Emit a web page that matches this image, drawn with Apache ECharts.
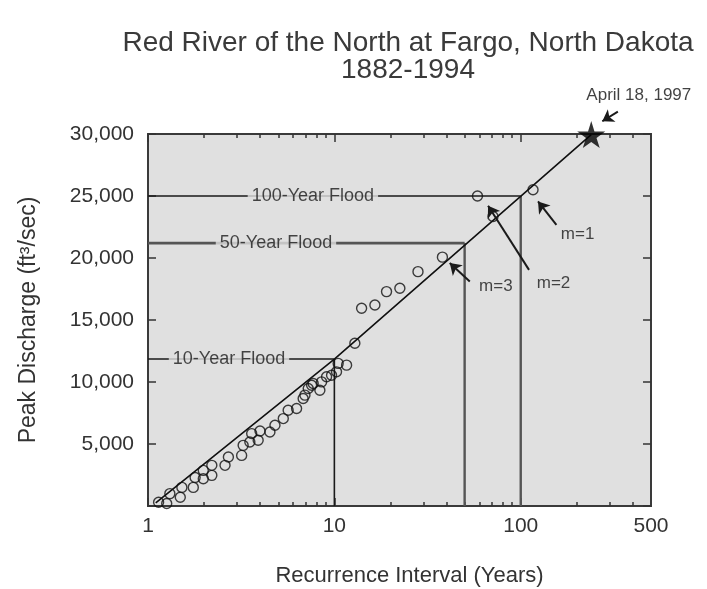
<!DOCTYPE html>
<html>
<head>
<meta charset="utf-8">
<script src="https://cdn.jsdelivr.net/npm/echarts@6/dist/echarts.min.js"></script>
<style>html,body{margin:0;padding:0;background:#fff}#c{width:707px;height:589px}</style>
</head>
<body>
<div id="c"></div>
<script>
// Recurrence interval (years) and peak discharge (ft3/sec) of annual peaks
const recurrence = [1.14,1.26,1.31,1.49,1.52,1.75,1.79,1.98,1.98,2.20,2.20,2.59,2.70,3.18,3.24,3.52,3.60,3.90,3.99,4.51,4.80,5.32,5.65,6.27,6.80,6.95,7.24,7.55,7.70,8.36,8.54,9.08,9.66,10.27,10.48,11.63,12.88,14.0,16.5,19.05,22.46,28.1,38.0,58.6,71.0,116.4];
const discharge  = [300,200,1000,700,1500,1500,2300,2200,2870,2470,3280,3280,3950,4080,4890,5160,5840,5300,6050,5970,6510,7050,7720,7860,8670,8940,9480,9740,9880,9340,10010,10420,10550,10820,11500,11360,13120,15950,16210,17290,17560,18900,20070,25000,23350,25510];
// fitted frequency line
const fitLine = [[1.1,250],[10,11850],[239,29950]];
// 1997 flood
const flood1997 = [[239,29950]];
// design floods: [return period, discharge]
const floods = [[10,11850],[50,21200],[100,25000]];
// tick values
const xMajorTicks = [1,10,100];
const xMinorTicks = [2,3,4,5,6,7,8,9,20,30,40,50,60,70,80,90,200,300,400];
const xLabels = [1,10,100,500];
// annotation labels [x, y, text]
const annoLabels = [[7.67,25000,'100-Year Flood'],[4.86,21200,'50-Year Flood'],[2.72,11850,'10-Year Flood']];
const mLabels = [[202,21950,'m=1'],[150,17990,'m=2'],[73.5,17750,'m=3']];
const dateLabel = [[430,33100,'April 18, 1997']];
// arrows [[tailX,tailY],[tipX,tipY]]
const arrows = [
  [[155.4,22680],[123.8,24560]],
  [[110.8,19040],[66.8,24220]],
  [[53.3,18100],[41.6,19590]],
  [[332,31800],[274,31030]]
];

const FONT = 'Liberation Sans, Arial, sans-serif';
const TXT = '#333';
const chart = echarts.init(document.getElementById('c'), null, {renderer:'canvas'});

function xAxisDef(pos, ticks, len, labels, name){
  return {
    type:'log', logBase:10, min:1, max:500, position:pos,
    axisLine:{show:false},
    splitLine:{show:false},
    axisTick:{show:true, inside:true, length:len, customValues:ticks, lineStyle:{color:'#333', width:1.5}},
    axisLabel: labels ? {show:true, customValues:labels, fontSize:21, color:TXT, fontFamily:FONT, margin:10, formatter:v=>String(v)} : {show:false},
    name: name || '', nameLocation:'middle', nameGap:59,
    nameTextStyle:{fontSize:22, color:TXT, fontFamily:FONT, padding:[0,0,0,20]}
  };
}
function yAxisDef(pos, labels, name){
  return {
    type:'value', min:0, max:30000, interval:5000, position:pos,
    axisLine:{show:false}, splitLine:{show:false},
    axisTick:{show:true, inside:true, length:8, lineStyle:{color:'#333', width:1.5}},
    axisLabel: labels ? {show:true, fontSize:21, color:TXT, fontFamily:FONT, margin:14,
      formatter:v=> v===0 ? '' : v.toLocaleString('en-US')} : {show:false},
    name: name||'', nameLocation:'middle', nameGap:108,
    nameTextStyle:{fontSize:23, color:TXT, fontFamily:FONT}
  };
}

const hStyles = [{color:'#1a1a1a', width:1.6},{color:'#555', width:2.6},{color:'#1a1a1a', width:1.6}];
const vStyles = [{color:'#1a1a1a', width:1.6},{color:'#555', width:2.4},{color:'#555', width:2.4}];
const floodLineSeries = [];
floods.forEach((f,i)=>{
  floodLineSeries.push({type:'line', xAxisIndex:0, yAxisIndex:0, symbol:'none', silent:true,
    data:[[1,f[1]],[f[0],f[1]]], lineStyle:hStyles[i], z:2});
  floodLineSeries.push({type:'line', xAxisIndex:0, yAxisIndex:0, symbol:'none', silent:true,
    data:[[f[0],f[1]],[f[0],0]], lineStyle:vStyles[i], z:2});
});

const option = {
  animation:false,
  backgroundColor:'#fff',
  title:{
    text:'Red River of the North at Fargo, North Dakota\n1882-1994',
    left:403, top:25, textAlign:'center',
    textStyle:{fontSize:28, fontWeight:'normal', color:'#3a3a3a', fontFamily:FONT, lineHeight:27}
  },
  grid:{left:148, right:56, top:134, bottom:83, show:true, backgroundColor:'#e0e0e0',
    borderColor:'#3a3a3a', borderWidth:2, containLabel:false, outerBoundsMode:'none'},
  xAxis:[
    xAxisDef('bottom', xMajorTicks, 8, xLabels, 'Recurrence Interval (Years)'),
    xAxisDef('bottom', xMinorTicks, 4, null),
    xAxisDef('top', xMajorTicks, 8, null),
    xAxisDef('top', xMinorTicks, 4, null)
  ],
  yAxis:[
    yAxisDef('left', true, 'Peak Discharge (ft³/sec)'),
    yAxisDef('right', false)
  ],
  series:[
    ...floodLineSeries,
    {type:'line', xAxisIndex:0, yAxisIndex:0, symbol:'none', silent:true, data:fitLine,
      lineStyle:{color:'#111', width:1.6}, z:3},
    {type:'scatter', xAxisIndex:0, yAxisIndex:0, symbol:'circle', symbolSize:10,
      data: recurrence.map((t,i)=>[t, discharge[i]]),
      itemStyle:{color:'rgba(0,0,0,0)', borderColor:'#111', borderWidth:1.4}, z:4},
    {type:'scatter', xAxisIndex:0, yAxisIndex:0, clip:false,
      symbol:'path://M50,0 L61,35 L98,35 L68,57 L79,91 L50,70 L21,91 L32,57 L2,35 L39,35 Z',
      symbolSize:[28,27], data:flood1997, itemStyle:{color:'#000'}, z:6},
    {type:'lines', coordinateSystem:'cartesian2d', xAxisIndex:0, yAxisIndex:0, clip:false,
      symbol:['none','arrow'], symbolSize:[0,11],
      data: arrows.map(a=>({coords:a})),
      lineStyle:{color:'#1a1a1a', width:2, opacity:1, curveness:0}, z:7},
    {type:'scatter', xAxisIndex:0, yAxisIndex:0, clip:false, symbolSize:1,
      itemStyle:{color:'rgba(0,0,0,0)'},
      data: annoLabels.map(a=>({value:[a[0],a[1]], name:a[2]})),
      label:{show:true, position:'inside', formatter:'{b}', fontSize:18, color:'#1a1a1a', fontFamily:FONT,
        backgroundColor:'#e0e0e0', padding:[0,4]}, z:8},
    {type:'scatter', xAxisIndex:0, yAxisIndex:0, clip:false, symbolSize:1,
      itemStyle:{color:'rgba(0,0,0,0)'},
      data: mLabels.map(a=>({value:[a[0],a[1]], name:a[2]})),
      label:{show:true, position:'inside', formatter:'{b}', fontSize:17, color:'#1a1a1a', fontFamily:FONT}, z:8},
    {type:'scatter', xAxisIndex:0, yAxisIndex:0, clip:false, symbolSize:1,
      itemStyle:{color:'rgba(0,0,0,0)'},
      data: dateLabel.map(a=>({value:[a[0],a[1]], name:a[2]})),
      label:{show:true, position:'inside', formatter:'{b}', fontSize:17, color:'#111', fontFamily:FONT}, z:8}
  ]
};
chart.setOption(option);
</script>
</body>
</html>
